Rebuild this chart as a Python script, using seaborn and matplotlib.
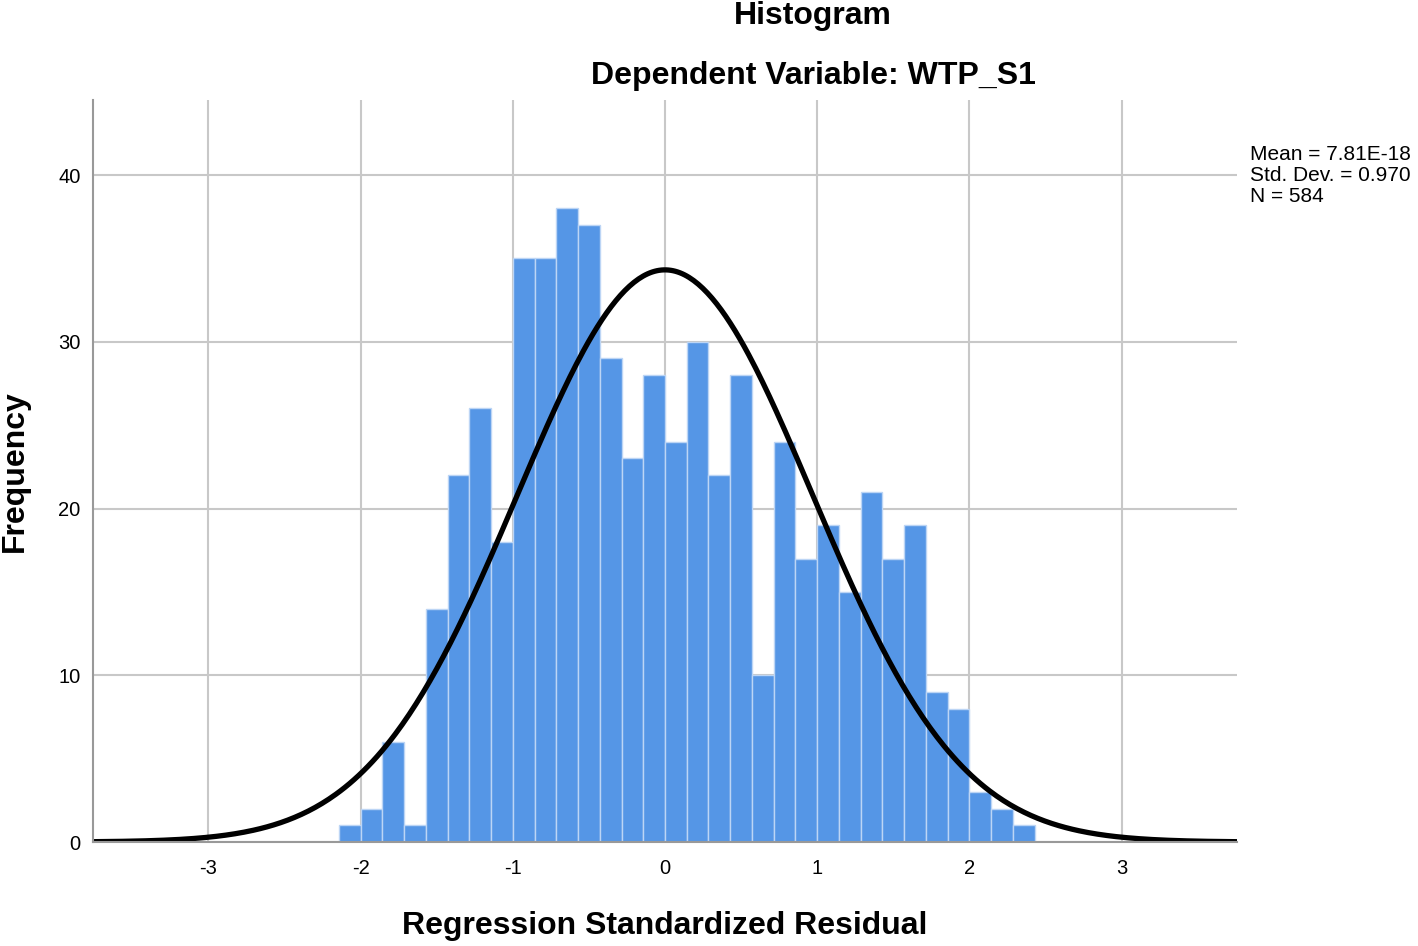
import numpy as np
import pandas as pd
import matplotlib.pyplot as plt
import seaborn as sns

# counts per bin, read left to right
counts = [1, 2, 6, 1, 14, 22, 26, 18, 35, 35, 38, 37, 29, 23, 28, 24,
          30, 22, 28, 10, 24, 17, 19, 15, 21, 17, 19, 9, 8, 3, 2, 1]
bin_start = -15 / 7
bin_width = 1 / 7
mean = 7.81e-18
std_dev = 0.970
n = 584

edges = bin_start + bin_width * np.arange(len(counts) + 1)
centers = edges[:-1] + bin_width / 2
df = pd.DataFrame({'resid': centers, 'freq': counts})

sns.set_style('white')
plt.rcParams['font.family'] = ['Liberation Sans', 'DejaVu Sans']
plt.rcParams['axes.unicode_minus'] = False
for k in ['text.color', 'axes.labelcolor', 'xtick.color', 'ytick.color']:
    plt.rcParams[k] = 'black'

fig = plt.figure(figsize=(14.18, 9.46), dpi=100)
ax = fig.add_axes([93 / 1418, 1 - 842 / 946, (1237 - 93) / 1418, (842 - 100) / 946])

ax.grid(True, color='#c8c8c8', lw=1.5)
ax.set_axisbelow(True)

sns.histplot(data=df, x='resid', weights='freq', binwidth=bin_width,
             binrange=(edges[0], edges[-1] - 1e-6), color='#5596e6',
             edgecolor='#bcd5f5', linewidth=1, alpha=1, ax=ax)

# normal curve scaled to counts
xs = np.linspace(-3.76, 3.76, 500)
curve = n * bin_width * np.exp(-0.5 * ((xs - mean) / std_dev) ** 2) / (std_dev * np.sqrt(2 * np.pi))
sns.lineplot(x=xs, y=curve, color='black', lw=3.8, ax=ax)

ax.set_xlim(-3.757, 3.757)
ax.set_ylim(0, 44.5)
ax.set_xticks([-3, -2, -1, 0, 1, 2, 3])
ax.set_yticks([0, 10, 20, 30, 40])
ax.tick_params(axis='both', length=0, labelsize=14.5)
ax.tick_params(axis='x', pad=12)
ax.tick_params(axis='y', pad=9)
for s in ['top', 'right']:
    ax.spines[s].set_visible(False)
for s in ['left', 'bottom']:
    ax.spines[s].set_color('#999999')
    ax.spines[s].set_linewidth(1.5)

ax.set_xlabel('Regression Standardized Residual', fontsize=23, fontweight='bold', va='center')
ax.xaxis.set_label_coords(0.5, -0.113)
ax.set_ylabel('Frequency', fontsize=23, fontweight='bold', va='center')
ax.yaxis.set_label_coords(-0.068, 0.5)

fig.text(813 / 1418, 1 - 16 / 946, 'Histogram', ha='center', va='center',
         fontsize=23, fontweight='bold')
fig.text(813 / 1418, 1 - 76 / 946, 'Dependent Variable: WTP_S1', ha='center', va='center',
         fontsize=23, fontweight='bold')
fig.text(1250 / 1418, 1 - 145 / 946, 'Mean = 7.81E-18\nStd. Dev. = 0.970\nN = 584',
         ha='left', va='top', fontsize=15, linespacing=1.12)

fig.savefig('out.png', dpi=100)
